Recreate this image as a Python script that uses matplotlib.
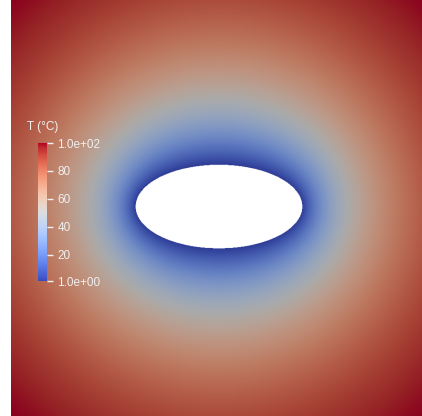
import numpy as np
import matplotlib
matplotlib.use("Agg")
import matplotlib.pyplot as plt
from matplotlib import cm, colors

plt.rcParams['font.family'] = ['Liberation Sans', 'DejaVu Sans']

# Plate with an elliptical hole, temperature field (ParaView-style render)
hole_center = (0.0, 0.007)
hole_a = 0.40          # semi-axis along x
hole_b = 0.20          # semi-axis along y
t_hole = 1.0           # temperature on the hole boundary
t_max = 100.0          # temperature reached in the plate corners
profile_power = 1.3
t_range = (1.0, 100.0)
tick_values = [1, 20, 40, 60, 80, 100]
tick_labels = ['1.0e+00', '20', '40', '60', '80', '1.0e+02']
field_title = 'T (\u00b0C)'

# grid over the plate
n = 900
xs = np.linspace(-1, 1, n)
ys = np.linspace(-1, 1, n)
X, Y = np.meshgrid(xs, ys)
X = X - hole_center[0]
Y = Y - hole_center[1]

# confocal elliptic radius measured from the hole
c = np.sqrt(hole_a**2 - hole_b**2)
r1 = np.hypot(X - c, Y)
r2 = np.hypot(X + c, Y)
mu = np.arccosh(np.clip((r1 + r2) / (2 * c), 1, None))
mu0 = np.arctanh(hole_b / hole_a)
s = np.clip(mu - mu0, 0, None)
u = s / s.max()
T = t_hole + (t_max - t_hole) * (1 - (1 - u) ** profile_power)

inside = (X / hole_a) ** 2 + (Y / hole_b) ** 2 < 1

cmap = plt.colormaps['coolwarm']
norm = colors.Normalize(*t_range, clip=True)
rgba = cmap(norm(T))
rgba[..., :3] *= 0.77     # surface shading
rgba[inside] = (1, 1, 1, 0)

W, H = 422, 416
fig = plt.figure(figsize=(W / 100, H / 100), dpi=100)
ax = fig.add_axes([0, 0, 1, 1])
ax.imshow(rgba, extent=[-1, 1, -1, 1], origin='lower', interpolation='bilinear')
px = 2.0 / H
ax.set_xlim(-1 - 11 * px, -1 + (W - 11) * px)
ax.set_ylim(-1, 1)
ax.axis('off')

# colorbar overlay
cax = fig.add_axes([38 / W, (H - 281) / H, 9 / W, 138 / H])
sm = cm.ScalarMappable(norm=colors.Normalize(*t_range), cmap=cmap)
cb = fig.colorbar(sm, cax=cax, ticks=tick_values)
cb.set_ticklabels(tick_labels)
cb.outline.set_visible(False)
cax.tick_params(axis='y', colors='#f0f0f0', length=4.5, width=1.0, pad=3,
                labelsize=8.5, labelcolor='#f0f0f0')
fig.text(27 / W, 1 - 127 / H, field_title, color='#f0f0f0', fontsize=8.5,
         ha='left', va='center')

fig.savefig('out.png', dpi=100)
